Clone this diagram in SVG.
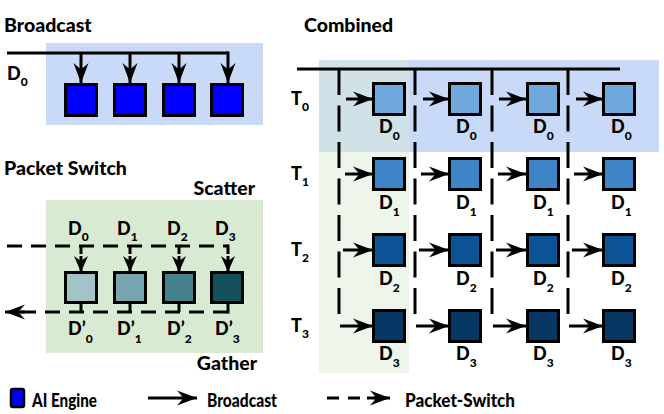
<svg xmlns="http://www.w3.org/2000/svg" width="664" height="414" viewBox="0 0 664 414">
<style>
text{font-family:Lato,"Liberation Sans",sans-serif;font-weight:900;fill:#000}
.title{font-size:19.5px}
.lb{font-size:18px}
.sub{font-size:12px}
.leg{font-size:18px}
.box{stroke:#000;stroke-width:3}
.ln{stroke:#000;stroke-width:3;fill:none}
.dsh{stroke:#000;stroke-width:3;fill:none;stroke-dasharray:15 9}
.vd{stroke:#000;stroke-width:3;fill:none;stroke-dasharray:26 10.5}
.ar{stroke:#000;stroke-width:3;fill:none;marker-end:url(#ah)}
</style>
<defs>
<marker id="ah" markerUnits="userSpaceOnUse" markerWidth="21" markerHeight="16" refX="20" refY="8" orient="auto">
<path d="M0,0.5 L20,8 L0,15.5 L6.5,8 Z" fill="#000"/>
</marker>
<marker id="ahs" markerUnits="userSpaceOnUse" markerWidth="17" markerHeight="16" refX="16" refY="8" orient="auto">
<path d="M0,1 L16,8 L0,15 L5,8 Z" fill="#000"/>
</marker>
</defs>

<!-- backgrounds -->
<rect x="46" y="43" width="217" height="82" fill="#c9daf8"/>
<rect x="46" y="200" width="217" height="153" fill="#d9ead3"/>
<rect x="319" y="60" width="340" height="92" fill="#c9daf8"/>
<rect x="319" y="60" width="90" height="313" fill="#d9ead3" fill-opacity="0.45"/>

<!-- titles -->
<text class="title" x="4" y="32">Broadcast</text>
<text class="title" x="4" y="175">Packet Switch</text>
<text class="title" x="304" y="32">Combined</text>
<text class="title" x="255" y="195" text-anchor="end">Scatter</text>
<text class="title" x="257" y="370" text-anchor="end">Gather</text>

<g id="connectors">
<!-- broadcast -->
<path class="ln" d="M7,53 H228"/>
<line class="ar" x1="81" y1="53" x2="81" y2="83"/>
<line class="ar" x1="130" y1="53" x2="130" y2="83"/>
<line class="ar" x1="179" y1="53" x2="179" y2="83"/>
<line class="ar" x1="228" y1="51.5" x2="228" y2="83"/>
<!-- packet switch scatter -->
<path class="dsh" d="M7,246 H228"/>
<path class="ln" d="M81,246 V254 M130,246 V254 M179,246 V254 M228,244.5 V254"/>
<line class="ar" style="marker-end:url(#ahs)" x1="81" y1="256" x2="81" y2="272"/>
<line class="ar" style="marker-end:url(#ahs)" x1="130" y1="256" x2="130" y2="272"/>
<line class="ar" style="marker-end:url(#ahs)" x1="179" y1="256" x2="179" y2="272"/>
<line class="ar" style="marker-end:url(#ahs)" x1="228" y1="256" x2="228" y2="272"/>
<!-- gather -->
<path class="ln" d="M81,304 V312 M130,304 V312 M179,304 V312 M228,304 V313.5"/>
<path class="dsh" d="M228,312 H20"/>
<line class="ar" x1="25" y1="312" x2="5" y2="312"/>
<!-- combined -->
<path class="ln" d="M297,69 H620"/>
<path class="vd" d="M339,69 V317 M415,69 V317 M492,69 V317 M568,69 V317"/>
<line class="ar" x1="346" y1="99" x2="373" y2="99"/>
<line class="ar" x1="423" y1="99" x2="449" y2="99"/>
<line class="ar" x1="499" y1="99" x2="526" y2="99"/>
<line class="ar" x1="576" y1="99" x2="603" y2="99"/>
<line class="ar" x1="345" y1="174" x2="373" y2="174"/>
<line class="ar" x1="421" y1="174" x2="449" y2="174"/>
<line class="ar" x1="498" y1="174" x2="526" y2="174"/>
<line class="ar" x1="574" y1="174" x2="603" y2="174"/>
<line class="ar" x1="343" y1="250" x2="373" y2="250"/>
<line class="ar" x1="419" y1="250" x2="449" y2="250"/>
<line class="ar" x1="496" y1="250" x2="526" y2="250"/>
<line class="ar" x1="572" y1="250" x2="603" y2="250"/>
<line class="ar" x1="340" y1="326" x2="373" y2="326"/>
<line class="ar" x1="416" y1="326" x2="449" y2="326"/>
<line class="ar" x1="493" y1="326" x2="526" y2="326"/>
<line class="ar" x1="569" y1="326" x2="603" y2="326"/>
</g>

<!-- broadcast nodes -->
<g id="b0"><rect class="box" x="65.5" y="84.5" width="31" height="31" fill="#0000ff"/></g>
<g id="b1"><rect class="box" x="114.5" y="84.5" width="31" height="31" fill="#0000ff"/></g>
<g id="b2"><rect class="box" x="163.5" y="84.5" width="31" height="31" fill="#0000ff"/></g>
<g id="b3"><rect class="box" x="211.5" y="84.5" width="31" height="31" fill="#0000ff"/></g>
<text class="lb" x="7" y="80">D<tspan class="sub" dy="6">0</tspan></text>

<!-- packet switch nodes -->
<g id="p0"><rect class="box" x="65.5" y="272.5" width="31" height="30" fill="#a2c4c9"/>
<text class="lb" x="68" y="235">D<tspan class="sub" dy="6">0</tspan></text>
<text class="lb" x="68" y="335">D’<tspan class="sub" dy="8">0</tspan></text></g>
<g id="p1"><rect class="box" x="114.5" y="272.5" width="31" height="30" fill="#76a5af"/>
<text class="lb" x="117" y="235">D<tspan class="sub" dy="6">1</tspan></text>
<text class="lb" x="117" y="335">D’<tspan class="sub" dy="8">1</tspan></text></g>
<g id="p2"><rect class="box" x="163.5" y="272.5" width="31" height="30" fill="#45818e"/>
<text class="lb" x="167" y="235">D<tspan class="sub" dy="6">2</tspan></text>
<text class="lb" x="167" y="335">D’<tspan class="sub" dy="8">2</tspan></text></g>
<g id="p3"><rect class="box" x="211.5" y="272.5" width="31" height="30" fill="#134f5c"/>
<text class="lb" x="215" y="235">D<tspan class="sub" dy="6">3</tspan></text>
<text class="lb" x="215" y="335">D’<tspan class="sub" dy="8">3</tspan></text></g>

<!-- T labels -->
<text class="lb" x="291" y="105">T<tspan class="sub" dy="6">0</tspan></text>
<text class="lb" x="291" y="180">T<tspan class="sub" dy="6">1</tspan></text>
<text class="lb" x="291" y="256">T<tspan class="sub" dy="6">2</tspan></text>
<text class="lb" x="291" y="332">T<tspan class="sub" dy="6">3</tspan></text>

<!-- combined nodes row 0 -->
<g id="c00"><rect class="box" x="373.5" y="83.5" width="31" height="31" fill="#6fa8dc"/><text class="lb" x="379" y="133">D<tspan class="sub" dy="7">0</tspan></text></g>
<g id="c01"><rect class="box" x="449.5" y="83.5" width="31" height="31" fill="#6fa8dc"/><text class="lb" x="456" y="133">D<tspan class="sub" dy="7">0</tspan></text></g>
<g id="c02"><rect class="box" x="527.5" y="83.5" width="31" height="31" fill="#6fa8dc"/><text class="lb" x="533" y="133">D<tspan class="sub" dy="7">0</tspan></text></g>
<g id="c03"><rect class="box" x="603.5" y="83.5" width="31" height="31" fill="#6fa8dc"/><text class="lb" x="611" y="133">D<tspan class="sub" dy="7">0</tspan></text></g>
<!-- row 1 -->
<g id="c10"><rect class="box" x="373.5" y="158.5" width="31" height="31" fill="#3d85c6"/><text class="lb" x="379" y="209">D<tspan class="sub" dy="7">1</tspan></text></g>
<g id="c11"><rect class="box" x="449.5" y="158.5" width="31" height="31" fill="#3d85c6"/><text class="lb" x="456" y="209">D<tspan class="sub" dy="7">1</tspan></text></g>
<g id="c12"><rect class="box" x="527.5" y="158.5" width="31" height="31" fill="#3d85c6"/><text class="lb" x="533" y="209">D<tspan class="sub" dy="7">1</tspan></text></g>
<g id="c13"><rect class="box" x="603.5" y="158.5" width="31" height="31" fill="#3d85c6"/><text class="lb" x="611" y="209">D<tspan class="sub" dy="7">1</tspan></text></g>
<!-- row 2 -->
<g id="c20"><rect class="box" x="373.5" y="234.5" width="31" height="31" fill="#0b5394"/><text class="lb" x="379" y="285">D<tspan class="sub" dy="7">2</tspan></text></g>
<g id="c21"><rect class="box" x="449.5" y="234.5" width="31" height="31" fill="#0b5394"/><text class="lb" x="456" y="285">D<tspan class="sub" dy="7">2</tspan></text></g>
<g id="c22"><rect class="box" x="527.5" y="234.5" width="31" height="31" fill="#0b5394"/><text class="lb" x="533" y="285">D<tspan class="sub" dy="7">2</tspan></text></g>
<g id="c23"><rect class="box" x="603.5" y="234.5" width="31" height="31" fill="#0b5394"/><text class="lb" x="611" y="285">D<tspan class="sub" dy="7">2</tspan></text></g>
<!-- row 3 -->
<g id="c30"><rect class="box" x="373.5" y="310.5" width="31" height="31" fill="#073763"/><text class="lb" x="379" y="360">D<tspan class="sub" dy="7">3</tspan></text></g>
<g id="c31"><rect class="box" x="449.5" y="310.5" width="31" height="31" fill="#073763"/><text class="lb" x="456" y="360">D<tspan class="sub" dy="7">3</tspan></text></g>
<g id="c32"><rect class="box" x="527.5" y="310.5" width="31" height="31" fill="#073763"/><text class="lb" x="533" y="360">D<tspan class="sub" dy="7">3</tspan></text></g>
<g id="c33"><rect class="box" x="603.5" y="310.5" width="31" height="31" fill="#073763"/><text class="lb" x="611" y="360">D<tspan class="sub" dy="7">3</tspan></text></g>

<!-- legend -->
<g id="legend">
<rect x="11" y="389" width="13" height="18" rx="2" fill="#0000ff" stroke="#000" stroke-width="2.5"/>
<text class="leg" x="32" y="407" textLength="65" lengthAdjust="spacingAndGlyphs">AI Engine</text>
<line class="ar" x1="148" y1="398" x2="197" y2="398"/>
<text class="leg" x="207" y="407" textLength="70" lengthAdjust="spacingAndGlyphs">Broadcast</text>
<path d="M327,398 H339 M348,398 H360 M367,398 H380" stroke="#000" stroke-width="3"/>
<line class="ar" x1="374" y1="398" x2="390" y2="398"/>
<text class="leg" x="405" y="407" textLength="110" lengthAdjust="spacingAndGlyphs">Packet-Switch</text>
</g>
</svg>
